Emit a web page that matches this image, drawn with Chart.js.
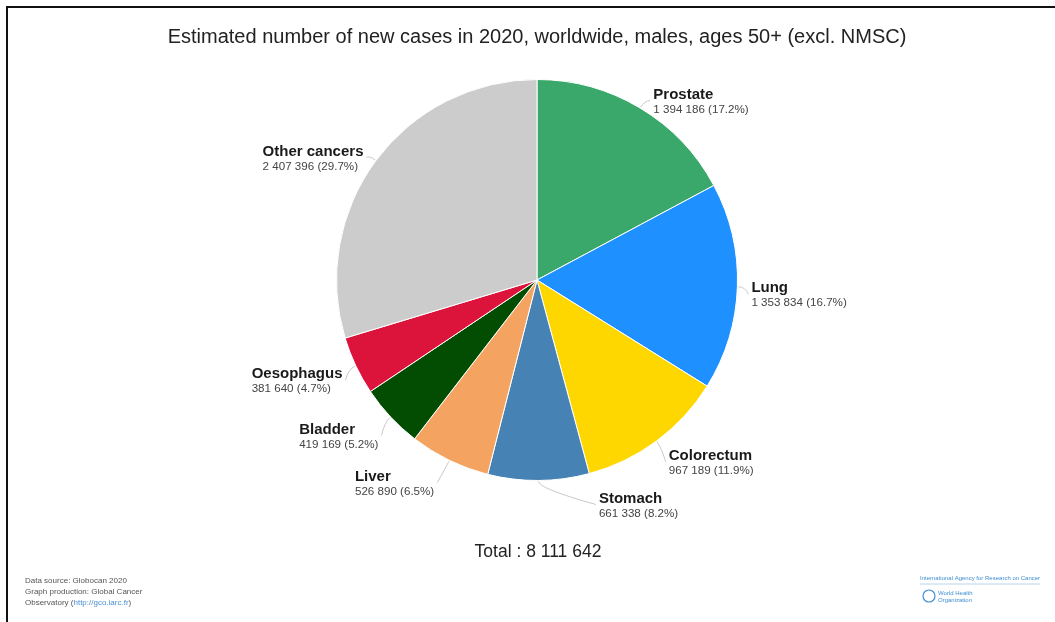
<!DOCTYPE html>
<html>
<head>
<meta charset="utf-8">
<script src="https://cdn.jsdelivr.net/npm/chart.js@4"></script>
<style>
  html, body { margin: 0; padding: 0; background: #fff; }
  #wrap { width: 1055px; height: 622px; position: relative; }
</style>
</head>
<body>
<div id="wrap"><canvas id="myChart"></canvas></div>
<script>
var cancers = ["Prostate", "Lung", "Colorectum", "Stomach", "Liver", "Bladder", "Oesophagus", "Other cancers"];
var newCases = [1394186, 1353834, 967189, 661338, 526890, 419169, 381640, 2407396];
var shares = [17.2, 16.7, 11.9, 8.2, 6.5, 5.2, 4.7, 29.7];
var sliceColors = ["#3aa86b", "#1e90ff", "#ffd700", "#4682b4", "#f4a460", "#024d02", "#dc143c", "#cccccc"];
var total = 8111642;

function spaced(n) {
    return String(n).replace(/\B(?=(\d{3})+(?!\d))/g, " ");
}

var decorations = {
    id: "decorations",
    afterDraw: function(chart) {
        var c = chart.ctx;
        c.save();

        // frame
        c.fillStyle = "#111";
        c.fillRect(6, 6, 1049, 2);
        c.fillRect(6, 6, 2, 616);

        // title
        c.fillStyle = "#222";
        c.textAlign = "center";
        c.textBaseline = "middle";
        c.font = "20px 'Liberation Sans', Arial, sans-serif";
        c.fillText("Estimated number of new cases in 2020, worldwide, males, ages 50+ (excl. NMSC)", 537, 37);

        // total
        c.font = "17.5px 'Liberation Sans', Arial, sans-serif";
        c.fillText("Total : " + spaced(total), 538, 552);

        // slice labels with leader lines
        var meta = chart.getDatasetMeta(0);
        meta.data.forEach(function(arc, i) {
            var a = (arc.startAngle + arc.endAngle) / 2;
            var r = arc.outerRadius;
            var sx = Math.cos(a), sy = Math.sin(a);
            var x0 = arc.x + sx * (r + 1), y0 = arc.y + sy * (r + 1);
            var x1 = arc.x + sx * (r + 8), y1 = arc.y + sy * (r + 8);
            var right = sx >= 0;
            var extra = 56 * Math.pow(1 - Math.abs(sx), 4);
            var nameY = y1 + 9 * sy + 1;
            var valY = nameY + 15;
            var name = cancers[i];
            var val = spaced(newCases[i]) + " (" + shares[i] + "%)";

            c.font = "bold 15px 'Liberation Sans', Arial, sans-serif";
            var w1 = c.measureText(name).width;
            c.font = "11.6px 'Liberation Sans', Arial, sans-serif";
            var w2 = c.measureText(val).width;
            var bw = Math.max(w1, w2);
            var tx = right ? x1 + 6 + extra : x1 - 6 - extra - bw;
            var lx = right ? tx - 3 : tx + bw + 3;

            c.strokeStyle = "#c8c8c8";
            c.lineWidth = 1;
            c.beginPath();
            c.moveTo(x0, y0);
            c.quadraticCurveTo(x1, y1, lx, nameY + 6);
            c.stroke();

            c.textAlign = "left";
            c.textBaseline = "middle";
            c.fillStyle = "#1a1a1a";
            c.font = "bold 15px 'Liberation Sans', Arial, sans-serif";
            c.fillText(name, tx, nameY);
            c.fillStyle = "#444";
            c.font = "11.6px 'Liberation Sans', Arial, sans-serif";
            c.fillText(val, tx, valY);
        });

        // footer left
        c.textAlign = "left";
        c.font = "8px 'Liberation Sans', Arial, sans-serif";
        c.fillStyle = "#555";
        c.fillText("Data source: Globocan 2020", 25, 581);
        c.fillText("Graph production: Global Cancer", 25, 592);
        c.fillText("Observatory (", 25, 603);
        var ow = c.measureText("Observatory (").width;
        c.fillStyle = "#4a90d0";
        c.fillText("http://gco.iarc.fr", 25 + ow, 603);
        var hw = c.measureText("http://gco.iarc.fr").width;
        c.fillStyle = "#555";
        c.fillText(")", 25 + ow + hw, 603);

        // footer right
        c.fillStyle = "#3f8fd2";
        c.font = "6px 'Liberation Sans', Arial, sans-serif";
        c.fillText("International Agency for Research on Cancer", 920, 578);
        c.strokeStyle = "#b8d4ec";
        c.beginPath();
        c.moveTo(920, 584);
        c.lineTo(1040, 584);
        c.stroke();
        c.strokeStyle = "#3f8fd2";
        c.lineWidth = 1.2;
        c.beginPath();
        c.arc(929, 596, 6, 0, Math.PI * 2);
        c.stroke();
        c.fillText("World Health", 938, 593);
        c.fillText("Organization", 938, 600);

        c.restore();
    }
};

var ctx = document.getElementById("myChart");

const myChart = new Chart(ctx, {
    type: "pie",
    data: {
        labels: cancers,
        datasets: [{
            data: newCases,
            backgroundColor: sliceColors,
            borderColor: "#ffffff",
            borderWidth: 1,
            hoverOffset: 0
        }]
    },
    options: {
        responsive: true,
        maintainAspectRatio: false,
        animation: false,
        layout: {
            padding: { top: 78, bottom: 140, left: 336, right: 317 }
        },
        plugins: {
            legend: { display: false },
            title: { display: false },
            tooltip: { enabled: false }
        },
        events: []
    },
    plugins: [decorations]
});
</script>
</body>
</html>
